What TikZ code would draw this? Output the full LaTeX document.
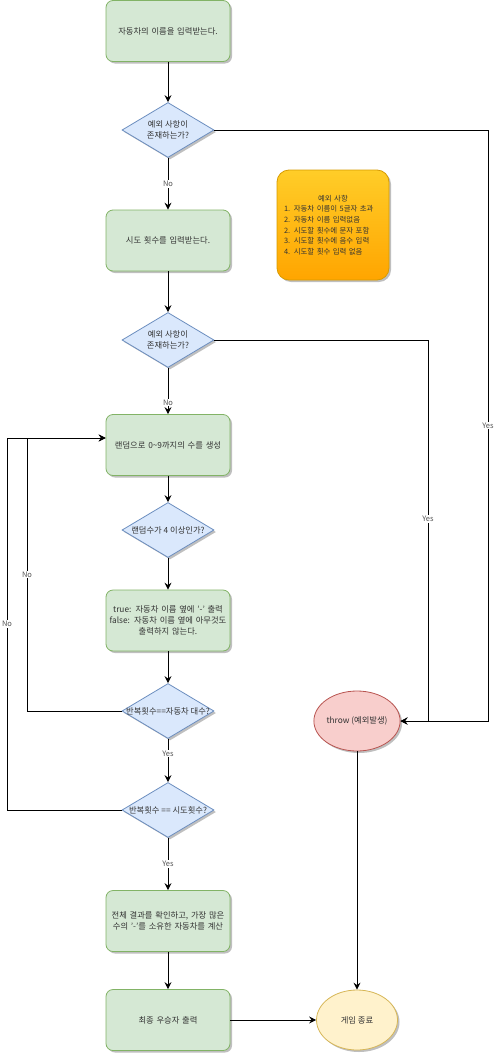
\documentclass[tikz,border=0pt]{standalone}
\usepackage{fontspec}
\setmainfont{Noto Sans CJK KR}
\usetikzlibrary{shapes.geometric,arrows.meta,shadows}
\definecolor{procfill}{HTML}{D5E8D4}
\definecolor{procline}{HTML}{82B366}
\definecolor{decfill}{HTML}{DAE8FC}
\definecolor{decline}{HTML}{6C8EBF}
\definecolor{errfill}{HTML}{F8CECC}
\definecolor{errline}{HTML}{B85450}
\definecolor{endfill}{HTML}{FFF2CC}
\definecolor{endline}{HTML}{D6B656}
\definecolor{notetop}{HTML}{FFCD28}
\definecolor{notebot}{HTML}{FFA500}
\definecolor{noteline}{HTML}{D79B00}
\definecolor{txt}{HTML}{333333}
\definecolor{lbltxt}{HTML}{555555}
\begin{document}
\begin{tikzpicture}[x=1pt,y=-1pt,
  shd/.style={drop shadow={shadow xshift=2pt,shadow yshift=-2pt,opacity=0.25,fill=black}},
  proc/.style={rectangle,rounded corners=7pt,draw=procline,fill=procfill,line width=0.8pt,
    minimum width=120pt,minimum height=61pt,text width=124pt,align=center,inner sep=0pt,
    font=\fontsize{8.3}{11}\selectfont,text=txt,shd},
  dec/.style={diamond,draw=decline,fill=decfill,line width=0.8pt,minimum width=92pt,
    minimum height=55pt,inner sep=0pt,shd},
  dectxt/.style={font=\fontsize{8.3}{11}\selectfont,text=txt,align=center,inner sep=0pt},
  term/.style={ellipse,line width=0.8pt,minimum width=81pt,minimum height=60pt,inner sep=0pt,
    font=\fontsize{8.3}{11}\selectfont,text=txt,shd},
  arr/.style={draw=black,line width=0.9pt,-{Stealth[length=7pt,width=7pt,inset=2.5pt]}},
  lbl/.style={fill=white,font=\fontsize{7.5}{9}\selectfont,text=lbltxt,inner sep=1pt}]
\useasboundingbox (0,0) rectangle (496,1055);

% process boxes
\node[proc] (b1) at (168,31) {자동차의 이름을 입력받는다.};
\node[proc] (b2) at (168,240.5) {시도 횟수를 입력받는다.};
\node[proc] (b3) at (168,445) {랜덤으로 0\textasciitilde9까지의 수를 생성};
\node[proc] (b4) at (168,620.5) {true: 자동차 이름 옆에 '-' 출력\\false: 자동차 이름 옆에 아무것도\\출력하지 않는다.};
\node[proc] (b5) at (168,921) {전체 결과를 확인하고, 가장 많은\\수의 '-'를 소유한 자동차를 계산};
\node[proc] (b6) at (168,1020) {최종 우승자 출력};

% decisions
\node[dec] (d1) at (168,130) {};
\node[dectxt] at (d1.center) {예외 사항이\\존재하는가?};
\node[dec] (d2) at (168,340) {};
\node[dectxt] at (d2.center) {예외 사항이\\존재하는가?};
\node[dec] (d3) at (168,530) {};
\node[dectxt] at (d3.center) {랜덤수가 4 이상인가?};
\node[dec] (d4) at (168,711) {};
\node[dectxt] at (d4.center) {반복횟수==자동차 대수?};
\node[dec] (d5) at (168,810) {};
\node[dectxt] at (d5.center) {반복횟수 == 시도횟수?};

% note
\node[rectangle,rounded corners=12pt,draw=noteline,top color=notetop,bottom color=notebot,
  line width=0.8pt,minimum width=112pt,minimum height=110pt,text width=98pt,align=left,shd,
  inner sep=0pt,font=\fontsize{7.4}{10.6}\selectfont,text=txt] (note) at (333,225)
  {\makebox[\linewidth][c]{예외 사항}\\1. 자동차 이름이 5글자 초과\\2. 자동차 이름 입력없음\\2. 시도할 횟수에 문자 포함\\3. 시도할 횟수에 음수 입력\\4. 시도할 횟수 입력 없음};

% terminals
\node[term,draw=errline,fill=errfill] (thr) at (357,721) {throw (예외발생)};
\node[term,draw=endline,fill=endfill] (end) at (357,1020) {게임 종료};

% helper coordinates
\coordinate (r1) at (488,130);
\coordinate (r1b) at (488,721);
\coordinate (r2) at (428,340);
\coordinate (r2b) at (428,721);
\coordinate (lc1) at (27,711);
\coordinate (lp1) at (27,438);
\coordinate (lc2) at (7,810);
\coordinate (lp2) at (7,438);

% main flow
\draw[arr] (b1) -- (d1);
\draw[arr] (d1) -- node[lbl]{No} (b2);
\draw[arr] (b2) -- (d2);
\draw[arr] (d2) -- node[lbl,pos=0.75]{No} (b3);
\draw[arr] (b3) -- (d3);
\draw[arr] (d3) -- (b4);
\draw[arr] (b4) -- (d4);
\draw[arr] (d4) -- node[lbl,pos=0.34]{Yes} (d5);
\draw[arr] (d5) -- node[lbl]{Yes} (b5);
\draw[arr] (b5) -- (b6);
\draw[arr] (b6) -- (end);
\draw[arr] (thr) -- (end);

% exception branches
\draw[arr] (d1.east) -- (r1) -- node[lbl]{Yes} (r1b) -- (thr.east);
\draw[arr] (d2.east) -- (r2) -- node[lbl,pos=0.47]{Yes} (r2b) -- (thr.east);

% loops
\draw[arr] (d4.west) -- (lc1) -- node[lbl]{No} (lp1) -- (lp1 -| b3.west);
\draw[arr] (d5.west) -- (lc2) -- node[lbl]{No} (lp2) -- (lp2 -| b3.west);
\end{tikzpicture}
\end{document}
